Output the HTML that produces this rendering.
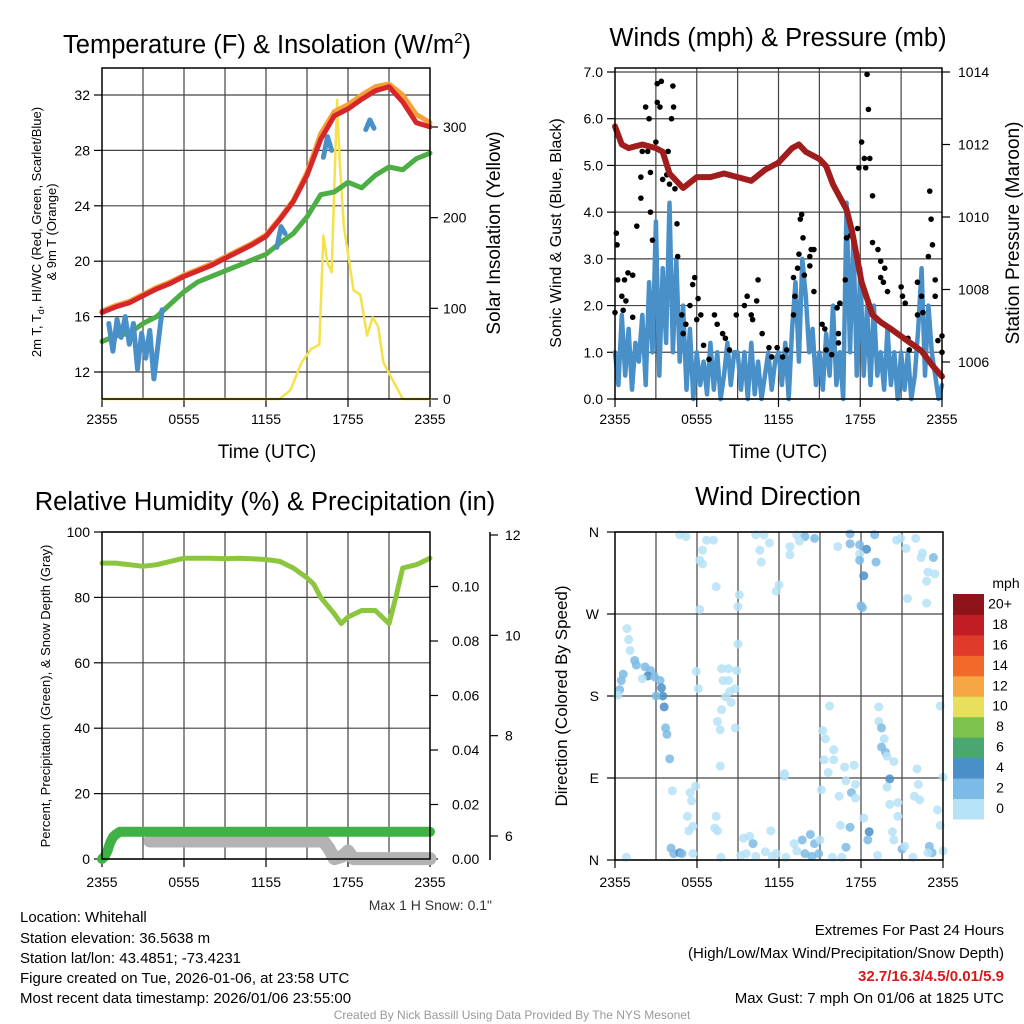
<!DOCTYPE html>
<html><head><meta charset="utf-8"><style>
body{margin:0;background:#fff}
svg{display:block;font-family:"Liberation Sans",sans-serif}
</style></head><body>
<svg id="c" width="1024" height="1024" viewBox="0 0 1024 1024" xmlns="http://www.w3.org/2000/svg">
<rect width="1024" height="1024" fill="#fff"/>
<g id="g"></g>
<text x="267" y="53" font-size="25.5" text-anchor="middle">Temperature (F) &amp; Insolation (W/m<tspan dy="-10" font-size="15">2</tspan><tspan dy="10">)</tspan></text>
<text x="778" y="46" font-size="25.5" text-anchor="middle">Winds (mph) &amp; Pressure (mb)</text>
<text x="265" y="510" font-size="25.5" text-anchor="middle">Relative Humidity (%) &amp; Precipitation (in)</text>
<text x="778" y="505" font-size="25.5" text-anchor="middle">Wind Direction</text>
<text x="267" y="458" font-size="19" text-anchor="middle">Time (UTC)</text>
<text x="778" y="458" font-size="19" text-anchor="middle">Time (UTC)</text>
<text transform="translate(41,232) rotate(-90)" font-size="13" text-anchor="middle">2m T, T<tspan font-size="9" dy="3">d</tspan><tspan dy="-3">, HI/WC (Red, Green, Scarlet/Blue)</tspan></text>
<text transform="translate(56,232) rotate(-90)" font-size="13" text-anchor="middle">&amp; 9m T (Orange)</text>
<text transform="translate(500,233) rotate(-90)" font-size="19" text-anchor="middle">Solar Insolation (Yellow)</text>
<text transform="translate(561,233) rotate(-90)" font-size="16" text-anchor="middle">Sonic Wind &amp; Gust (Blue, Black)</text>
<text transform="translate(1019,233) rotate(-90)" font-size="19" text-anchor="middle">Station Pressure (Maroon)</text>
<text transform="translate(50,696) rotate(-90)" font-size="13" text-anchor="middle">Percent, Precipitation (Green), &amp; Snow Depth (Gray)</text>
<text transform="translate(567,696) rotate(-90)" font-size="17" text-anchor="middle">Direction (Colored By Speed)</text>
<text x="492" y="910" font-size="14" text-anchor="end" fill="#333">Max 1 H Snow: 0.1"</text>
<g font-size="15">
<text x="20" y="922">Location: Whitehall</text>
<text x="20" y="943">Station elevation: 36.5638 m</text>
<text x="20" y="963">Station lat/lon: 43.4851; -73.4231</text>
<text x="20" y="983">Figure created on Tue, 2026-01-06, at 23:58 UTC</text>
<text x="20" y="1003">Most recent data timestamp: 2026/01/06 23:55:00</text>
</g>
<g font-size="15" text-anchor="end">
<text x="1004" y="935">Extremes For Past 24 Hours</text>
<text x="1004" y="958">(High/Low/Max Wind/Precipitation/Snow Depth)</text>
<text x="1004" y="981" fill="#d7191c" font-weight="bold">32.7/16.3/4.5/0.01/5.9</text>
<text x="1004" y="1003">Max Gust: 7 mph On 01/06 at 1825 UTC</text>
</g>
<text x="512" y="1019" font-size="12" fill="#999" text-anchor="middle">Created By Nick Bassill Using Data Provided By The NYS Mesonet</text>
</svg>
<script>
// ---------- data ----------
const hours = [0,1,2,3,4,5,6,7,8,9,10,11,12,13,14,15,16,17,18,19,20,21,22,23,24];
const tempRed = [16.3,16.7,17.0,17.5,18.0,18.4,18.9,19.3,19.7,20.2,20.7,21.2,21.8,23.0,24.3,26.2,28.8,30.5,31.0,31.7,32.3,32.6,31.5,30.0,29.7];
const temp9m = [16.4,16.8,17.1,17.6,18.1,18.5,19.0,19.4,19.8,20.3,20.8,21.3,21.9,23.1,24.4,26.4,29.2,30.8,31.3,32.0,32.6,32.8,32.0,30.6,30.0];
const dewGreen = [14.2,14.6,14.8,15.5,16.0,16.9,17.8,18.5,18.9,19.3,19.7,20.1,20.5,21.3,22.0,23.2,24.8,25.0,25.7,25.3,26.2,26.8,26.6,27.4,27.8];
const wcTimes = [0.5,0.8,1.1,1.4,1.7,2.0,2.3,2.6,2.9,3.2,3.5,3.8,4.1,4.4,12.8,13.1,13.4,16.2,16.5,16.8,19.3,19.6,19.9];
const wcVals = [15.5,13.5,15.8,14.5,16.0,14.0,15.5,12.2,14.8,13.0,15.0,11.5,14.0,16.5,21.0,22.5,22.0,27.5,29.0,28.0,29.5,30.2,29.6];
const solarT = [0,13,13.8,14.6,15.3,15.9,16.2,16.5,16.8,17.2,17.4,17.7,18.1,18.4,18.9,19.4,19.8,20.2,20.6,21.3,22,24];
const solarV = [0,0,10,40,55,60,180,150,140,330,260,190,150,120,115,70,90,80,40,20,0,0];
const tempTicks = [12,16,20,24,28,32];
const solarTicks = [0,100,200,300];
const timeLabels = ["2355","0555","1155","1755","2355"];

const presT = [0,0.5,1,2,3,3.5,4,5,6,7,8,9,10,11,12,13,13.5,14,15,15.5,16,17,17.4,18.1,18.9,19.5,20.3,21.4,22.5,23.3,24];
const presV = [1012.5,1012.0,1011.9,1012.0,1011.9,1011.8,1011.2,1010.8,1011.1,1011.1,1011.2,1011.1,1011.0,1011.3,1011.5,1011.9,1012.0,1011.8,1011.6,1011.4,1010.9,1010.2,1009.6,1008.2,1007.3,1007.1,1006.9,1006.6,1006.3,1005.9,1005.6];
const windSpd = [1.0,0.3,1.8,0.5,1.5,0.2,1.2,0.8,1.8,0.3,2.5,1.0,3.8,0.5,2.8,1.2,4.2,1.0,3.0,0.8,2.0,0.2,1.5,0.0,1.0,0.3,0.8,0.1,1.2,0.2,1.0,0.0,0.5,1.2,0.3,1.0,1.0,0.2,1.0,0.0,1.2,0.1,0.8,0.0,0.5,1.0,0.2,0.8,1.0,0.3,1.2,0.0,1.5,2.5,0.8,3.0,2.2,1.0,1.5,0.3,1.0,0.2,1.4,0.5,2.0,0.3,1.0,0.0,4.2,1.0,3.5,0.5,2.8,0.5,2.0,0.3,2.0,0.5,1.0,0.2,1.5,0.3,1.0,0.0,1.0,0.2,1.0,0.0,0.5,1.5,2.8,0.5,2.0,1.0,0.5,0.0,0.3];
const gustT = [0.1,0.15,0,0.2,0.5,0.7,0.95,1.3,0.8,0.6,1.3,1.6,1.9,1.9,2.0,2.25,2.5,2.4,2.6,2.6,2.75,3.0,3.1,3.4,3.1,3.3,3.5,3.8,3.9,4.25,4.3,4.15,4.0,4.4,4.55,4.6,4.9,5.2,5.0,5.5,5.7,5.85,6.1,6.0,6.3,6.5,6.9,7.3,7.5,7.9,8.1,8.4,8.9,9.5,9.7,10.0,10.1,10.4,10.5,10.8,11.3,11.5,11.9,12.3,12.6,13.1,13.2,13.1,13.4,13.5,13.6,13.7,13.8,13.9,14.3,14.4,14.3,14.6,14.6,15.2,15.4,15.5,15.9,16.4,16.4,16.3,16.5,16.9,17.0,17.3,17.8,17.9,18.1,18.3,18.4,18.5,18.6,18.7,18.9,18.9,19.3,19.5,19.8,19.5,19.7,20.0,21.0,21.1,21.3,21.5,21.6,22.2,22.5,22.2,22.6,23.0,23.1,23.2,23.3,23.5,23.5,23.7,24,24];
const gustV = [3.55,3.3,1.85,2.55,2.2,2.55,2.7,2.65,2.1,1.9,1.75,3.7,4.3,4.75,5.3,6.25,6.0,5.3,4.85,4.0,3.4,5.5,6.75,6.8,6.35,6.25,4.7,4.8,5.3,6.7,6.25,6.0,4.6,4.5,3.75,3.05,1.8,1.6,1.4,2.0,2.45,2.6,2.15,1.7,1.8,1.15,0.85,1.8,1.6,1.4,1.3,1.05,1.8,2.0,2.2,1.8,1.7,2.1,2.55,1.4,1.1,0.9,1.1,0.9,1.05,1.8,2.2,2.6,2.8,3.1,3.85,3.95,3.45,2.65,3.05,3.2,2.85,3.2,2.3,1.6,1.5,1.05,0.95,1.2,1.4,1.95,2.05,2.55,3.45,3.5,3.65,4.95,5.5,5.15,4.95,6.95,6.2,5.15,4.35,3.35,3.2,2.95,2.8,2.6,2.5,2.3,2.4,2.2,2.05,1.3,1.05,2.5,2.2,1.8,1.85,3.05,4.45,3.85,3.3,2.55,2.2,1.25,1.0,1.35];
const windTicks = [0,1,2,3,4,5,6,7];
const presTicks = [1006,1008,1010,1012,1014];

const rhT = [0,1,2,3,4,5,6,7,8,9,10,11,12,13,14,15,15.5,16,17,17.5,18,19,20,21,21.5,22,23,24];
const rhV = [90.5,90.5,90,89.5,90,91,92,92,92,91.8,92,91.8,91.6,91,89,86,84,80,75,72,74,76,76,72,80,89,90,92];
const precipT = [0,0.2,0.4,0.6,0.8,1.0,1.3,24];
const precipV = [0,0.001,0.003,0.006,0.008,0.009,0.01,0.01];
const snowT = [3.5,16.2,16.6,17.0,17.6,18.0,18.4,18.8,24];
const snowV = [5.9,5.9,5.75,5.55,5.6,5.7,5.55,5.55,5.55];
const rhTicks = [0,20,40,60,80,100];
const precipTicks = [0,0.02,0.04,0.06,0.08,0.10];
const snowTicks = [6,8,10,12];

const wdTime = [4.74,5.2,6.7,7.2,6.4,6.2,6.4,7.4,9.1,9.0,6.2,10.3,10.9,10.6,10.7,11.3,12.0,11.8,13.3,13.9,14.6,12.8,12.8,13.5,16.3,17.2,17.2,17.9,18.4,17.9,17.9,18.2,19.0,19.1,18.0,18.1,20.6,20.9,22.0,21.3,22.5,23.3,22.4,22.9,23.4,22.8,21.4,22.8,
0.88,1.0,1.1,1.44,1.56,2.2,2.6,2.4,2.0,0.6,0.46,0.34,0.22,2.9,3.3,3.4,3.5,3.6,3.7,3.8,4.0,4.2,3.0,
5.95,6.1,7.8,8.3,8.9,7.9,8.3,8.8,8.4,8.1,8.5,7.8,7.5,7.7,8.8,7.7,9.0,
15.7,15.2,15.4,16.0,15.3,16.0,15.6,16.8,17.5,15.1,16.9,17.6,17.3,16.4,17.6,19.3,19.3,19.5,19.7,19.5,19.8,19.9,20.4,20.1,19.9,20.1,20.7,20.7,22.1,22.2,23.8,24.0,21.9,22.3,23.6,23.8,12.4,12.4,
4.1,4.3,4.74,4.9,5.7,5.3,5.4,5.7,5.6,5.9,5.5,7.4,7.3,7.5,7.75,0.83,9.4,9.85,10.1,9.6,9.2,10.3,11.0,11.5,11.8,11.4,12.5,13.1,13.3,13.7,13.9,14.3,14.6,14.9,14.4,15.0,15.9,16.6,16.5,17.2,16.9,18.2,18.6,18.5,19.2,20.3,20.4,21.0,21.2,21.8,23.0,23.2,24.0,22.9];
const wdDir = [357,355,351,351,340,329,325,300,291,278,275,357,357,340,327,348,302,295,357,355,353,344,335,350,344,358,347,346,341,336,329,312,357,327,279,277,351,353,353,342,337,332,332,316,314,306,287,282,
254,242,230,219,214,212,208,202,199,204,197,187,181,201,197,189,180,168,145,138,111,76,180,
207,188,210,210,208,197,197,188,185,179,173,165,152,143,145,103,237,
169,142,133,121,110,110,96,102,104,77,87,83,74,70,68,168,152,145,133,124,118,114,108,89,80,61,63,48,100,83,169,91,70,66,55,38,95,92,
13,7,8,7,7,48,32,37,65,81,74,48,35,32,3,3,24,26,18,7,5,4,9,4,7,32,3,18,10,22,7,28,18,7,4,22,3,3,38,36,14,46,31,22,5,31,22,12,15,3,15,8,10,8];
const wdSpd = [1,1,1,1,1,1,1,1,1,1,1,1,1,1,1,1,1,1,1,3,3,1,1,1,1,3,3,3,4,1,3,4,3,3,3,3,1,1,1,1,1,3,1,1,1,1,1,1,
1,1,1,2,3,3,3,4,1,2,2,2,1,2,3,4,4,4,3,3,3,1,3,
1,1,1,1,1,1,1,1,1,1,1,1,1,1,1,1,1,
1,1,1,1,1,1,1,1,1,1,1,1,3,1,1,1,1,3,1,2,2,1,1,4,1,1,1,1,1,1,1,1,1,1,1,1,1,1,
3,3,4,2,1,1,1,1,1,1,1,1,1,1,1,1,1,1,3,1,1,1,1,1,1,1,1,1,1,3,3,3,3,3,3,1,1,1,1,3,3,1,4,3,1,1,1,3,1,1,3,3,1,1];
const dirLabels = ["N","E","S","W","N"];
const cbLabels = ["0","2","4","6","8","10","12","14","16","18","20+"];
const cbColors = ["#b5e2f7","#7cbbe5","#4a8fc7","#49a871","#7dc24b","#e6e05a","#f6a744","#f06a2a","#e03a2a","#c11d25","#8f1419"];

// ---------- helpers ----------
const NS="http://www.w3.org/2000/svg";
const G=document.getElementById('g');
function mk(tag,attrs,parent){const e=document.createElementNS(NS,tag);for(const k in attrs)e.setAttribute(k,attrs[k]);(parent||G).appendChild(e);return e;}
function lin(d0,d1,r0,r1){return v=>r0+(v-d0)*(r1-r0)/(d1-d0);}
function txt(x,y,s,size,anchor,name){const t=mk('text',{x:x,y:y,'font-size':size,'text-anchor':anchor||'middle'});t.textContent=s;

return t;}
function path(xs,ys,sx,sy,color,w,name,maxGap){
  let d='';let pen=false;
  for(let i=0;i<xs.length;i++){if(ys[i]==null){pen=false;continue;}
   if(pen&&maxGap&&xs[i]-xs[i-1]>maxGap)pen=false;
   d+=(pen?'L':'M')+sx(xs[i]).toFixed(1)+','+sy(ys[i]).toFixed(1);pen=true;}
  const p=mk('path',{d:d,fill:'none',stroke:color,'stroke-width':w,'stroke-linejoin':'round','stroke-linecap':'round'});
  
  return p;}
function frame(x0,y0,x1,y1,name){const r=mk('rect',{x:x0,y:y0,width:x1-x0,height:y1-y0,fill:'none',stroke:'#000','stroke-width':1.5});

}
function vgrid(sx,y0,y1){for(let h=3;h<24;h+=3){const l=mk('line',{x1:sx(h),x2:sx(h),y1:y0,y2:y1,stroke:'#444','stroke-width':1.2});

}}
function hgridLeft(vals,sy,x0,x1,labelFmt,name,grid){vals.forEach(v=>{const y=sy(v);
 if(grid){const l=mk('line',{x1:x0,x2:x1,y1:y,y2:y,stroke:'#444','stroke-width':1.2});
 
 }
 mk('line',{x1:x0-8,x2:x0,y1:y,y2:y,stroke:'#000','stroke-width':1.2});
 txt(x0-12,y+5,labelFmt(v),14,'end',name);});}
function rightTicks(vals,sy,x,labelFmt,name,lx){vals.forEach(v=>{const y=sy(v);
 mk('line',{x1:x,x2:x+8,y1:y,y2:y,stroke:'#000','stroke-width':1.2});
 txt(lx||x+14,y+5,labelFmt(v),14,'start',name);});}
function timeTicks(sx,y,ty){timeLabels.forEach((s,i)=>{const x=sx(i*6);mk('line',{x1:x,x2:x,y1:y,y2:y+8,stroke:'#000','stroke-width':1.2});txt(x,ty,s,14,'middle','time-tick-label');});}

// ---------- panel 1 ----------
{const x0=102,x1=430,y0=68,y1=399;
const sx=lin(0,24,x0,x1), sy=lin(12,32,372,95), ss=lin(0,300,399,127);
vgrid(sx,y0,y1);
hgridLeft(tempTicks,sy,x0,x1,v=>v,'temp-tick-label',true);
rightTicks(solarTicks,ss,x1,v=>v,'solar-tick-label',443);
timeTicks(sx,y1,424);
path(solarT,solarV,sx,ss,'#f7e14b',2.5,'solar-line');
path(hours,dewGreen,sx,sy,'#4cae45',5,'dewpoint-line');
path(wcTimes,wcVals,sx,sy,'#4a90c8',5,'windchill-line',0.5);
path(hours,temp9m,sx,sy,'#f6a03a',5,'temp-9m-line');
path(hours,tempRed,sx,sy,'#d7262a',5,'temp-2m-line');
frame(x0,y0,x1,y1,'temp-plot-frame');}

// ---------- panel 2 ----------
{const x0=615,x1=942,y0=68,y1=399;
const sx=lin(0,24,x0,x1), sy=lin(0,7,399,72), sp=lin(1006,1014,362,72);
vgrid(sx,y0,y1);
hgridLeft(windTicks,sy,x0,x1,v=>v.toFixed(1),'wind-tick-label',true);
rightTicks(presTicks,sp,x1,v=>v,'pressure-tick-label',958);
timeTicks(sx,y1,424);
const wt=windSpd.map((v,i)=>i*0.25);
path(wt,windSpd,sx,sy,'#4a90c8',4.5,'sonic-wind-line');
gustT.forEach((t,i)=>{const c=mk('circle',{cx:sx(t),cy:sy(gustV[i]),r:2.8,fill:'#000'});

});
path(presT,presV,sx,sp,'#a01d1d',6,'pressure-line');
frame(x0,y0,x1,y1,'wind-plot-frame');}

// ---------- panel 3 ----------
{const x0=102,x1=430,y0=532,y1=859;
const sx=lin(0,24,x0,x1), sy=lin(0,100,859,532), spp=lin(0,0.12,859,532), ssn=lin(6,12,836,535);
vgrid(sx,y0,y1);
hgridLeft(rhTicks,sy,x0,x1,v=>v,'rh-tick-label',true);
rightTicks(precipTicks,spp,x1,v=>v.toFixed(2),'precip-tick-label',452);
mk('line',{x1:490,x2:490,y1:532,y2:860,stroke:'#000','stroke-width':1.5});
rightTicks(snowTicks,ssn,490,v=>v,'snow-tick-label',505);
timeTicks(sx,y1,887);
path(snowT,snowV,sx,ssn,'#b3b3b3',13,'snow-depth-line');
path(precipT,precipV,sx,spp,'#40b245',10,'precip-line');
path(rhT,rhV,sx,sy,'#8cc63f',5,'rh-line');
frame(x0,y0,x1,y1,'rh-plot-frame');}

// ---------- panel 4 ----------
{const x0=615,x1=943,y0=532,y1=860;
const sx=lin(0,24,x0,x1), sy=lin(0,360,860,532);
vgrid(sx,y0,y1);
dirLabels.forEach((s,i)=>{const y=sy(i*90);
 mk('line',{x1:x0,x2:x1,y1:y,y2:y,stroke:'#444','stroke-width':1.2});
 mk('line',{x1:x0-8,x2:x0,y1:y,y2:y,stroke:'#000','stroke-width':1.2});
 txt(x0-16,y+5,s,14,'end','direction-tick-label');});
timeLabels.forEach((s,i)=>{const x=sx(i*6);mk('line',{x1:x,x2:x,y1:y1,y2:y1+8,stroke:'#000','stroke-width':1.2});txt(x,887,s,14,'middle','time-tick-label');});
wdTime.forEach((t,i)=>{const s=wdSpd[i];const col=s<2?cbColors[0]:(s<4?cbColors[1]:cbColors[2]);
 const c=mk('circle',{cx:sx(t),cy:sy(wdDir[i]),r:4.5,fill:col,'fill-opacity':0.85});
 
 });
frame(x0,y0,x1,y1,'direction-plot-frame');
const cb=mk('g',{});


const by=lin(0,11,819,594);
cbColors.forEach((c,i)=>{mk('rect',{x:953,y:by(i+1),width:31,height:by(i)-by(i+1)+0.5,fill:c},cb);
 txt(1000,by(i)-6,cbLabels[i],14,'middle','colorbar-label');});
txt(1006,588,'mph',14,'middle','colorbar-unit');}
</script>
</body></html>
